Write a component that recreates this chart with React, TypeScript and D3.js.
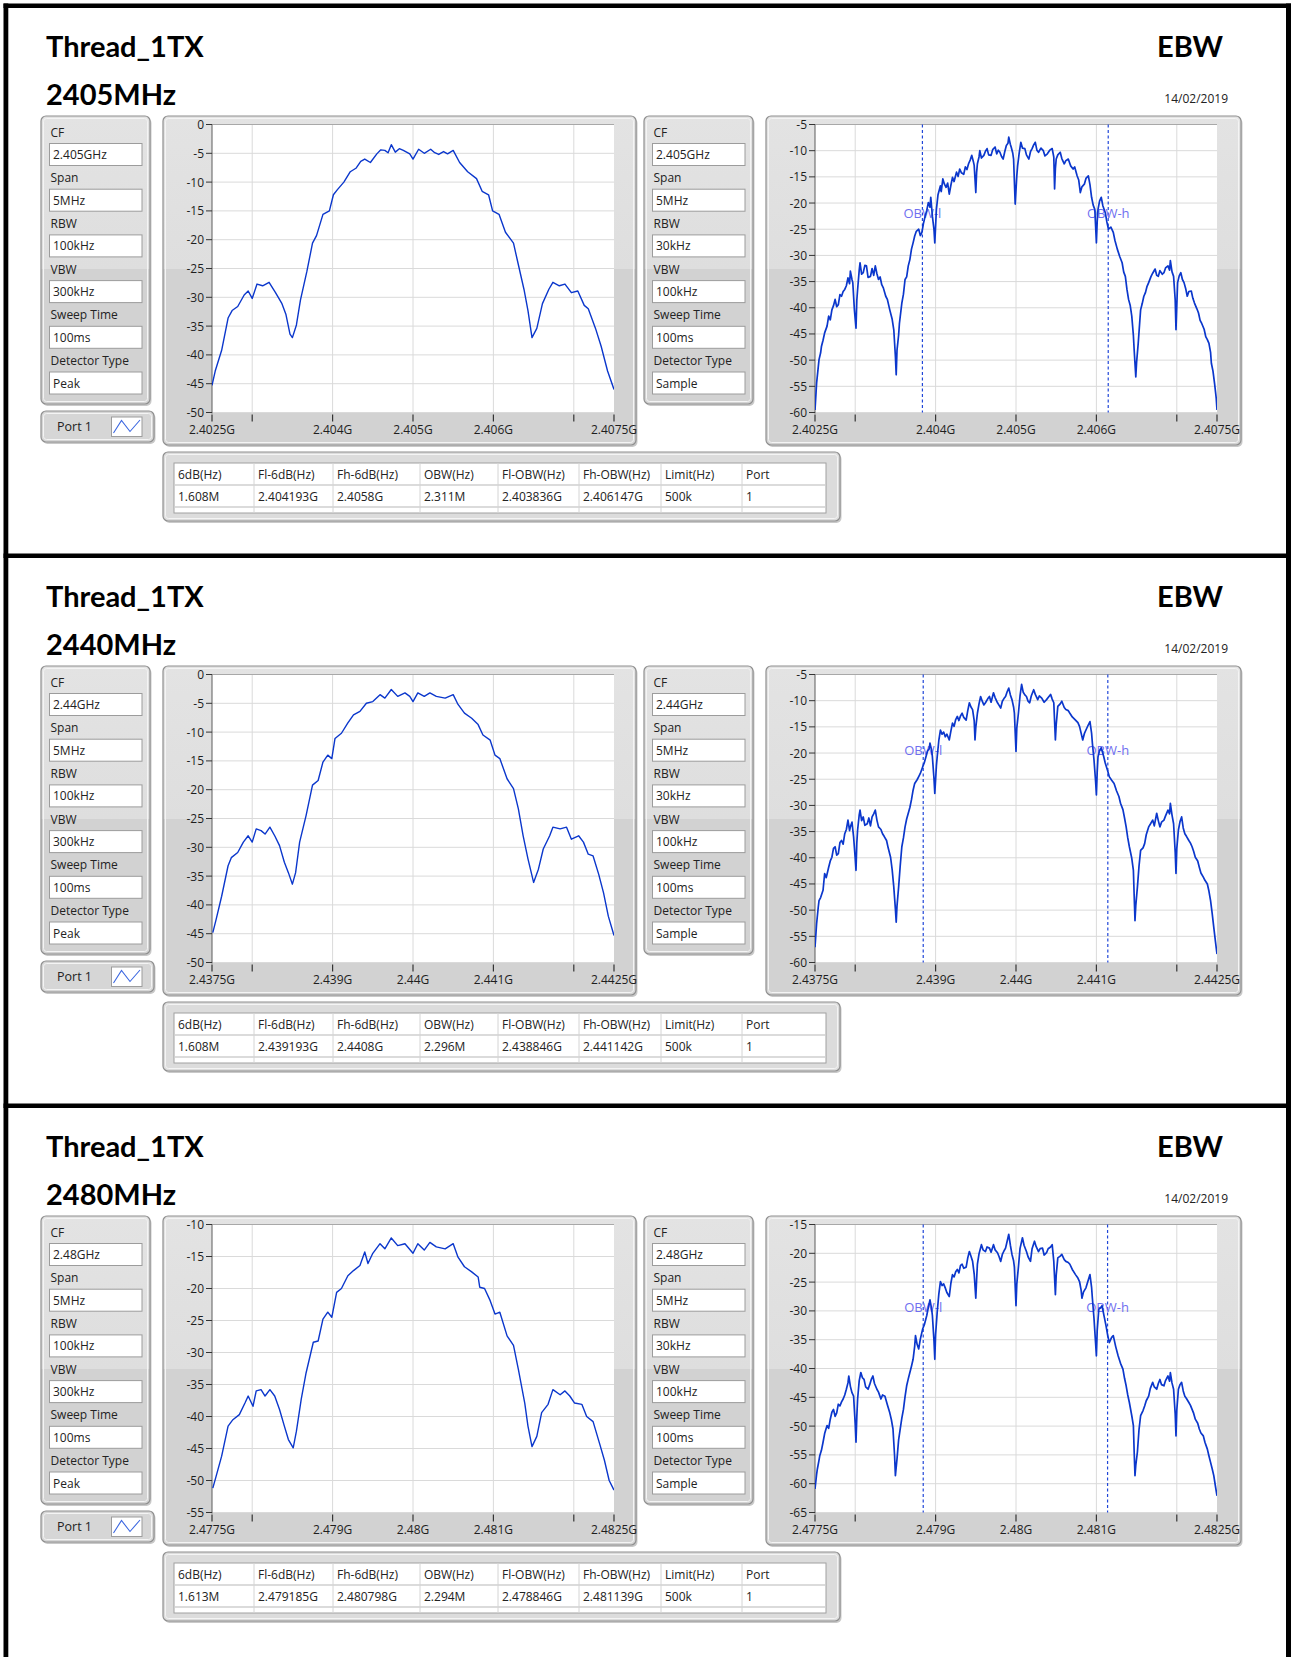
import React from 'react';
import * as d3 from 'd3';

// ---- data ----
const channelTitles = ['2405MHz', '2440MHz', '2480MHz'];
const cfLabels = ['2.405GHz', '2.44GHz', '2.48GHz'];
const spanStart = [2.4025, 2.4375, 2.4775]; // GHz, left edge of the 5 MHz span
const paramNames = ['CF', 'Span', 'RBW', 'VBW', 'Sweep Time', 'Detector Type'];
const peakSettings = ['5MHz', '100kHz', '300kHz', '100ms', 'Peak'];
const sampleSettings = ['5MHz', '30kHz', '100kHz', '100ms', 'Sample'];
const reportDate = '14/02/2019';

const xTickOffsets = [0, 0.5, 1.5, 2.5, 3.5, 4.5, 5]; // MHz from span start
const xTickLabels = [
  ['2.4025G', '', '2.404G', '2.405G', '2.406G', '', '2.4075G'],
  ['2.4375G', '', '2.439G', '2.44G', '2.441G', '', '2.4425G'],
  ['2.4775G', '', '2.479G', '2.48G', '2.481G', '', '2.4825G'],
];
const peakYDomains = [[-50, 0], [-50, 0], [-55, -10]];
const sampleYDomains = [[-60, -5], [-60, -5], [-65, -15]];
const obwLabelDb = [-22, -19.5, -29.4];

const tableHeaders = ['6dB(Hz)', 'Fl-6dB(Hz)', 'Fh-6dB(Hz)', 'OBW(Hz)', 'Fl-OBW(Hz)', 'Fh-OBW(Hz)', 'Limit(Hz)', 'Port'];
const tableRows = [
  ['1.608M', '2.404193G', '2.4058G', '2.311M', '2.403836G', '2.406147G', '500k', '1'],
  ['1.608M', '2.439193G', '2.4408G', '2.296M', '2.438846G', '2.441142G', '500k', '1'],
  ['1.613M', '2.479185G', '2.480798G', '2.294M', '2.478846G', '2.481139G', '500k', '1'],
];

// [MHz from span start, dBm]
const peak2405 = [[0,-45.3],[0.04,-42.8],[0.12,-39.2],[0.2,-33.6],[0.25,-32.3],[0.32,-31.6],[0.4,-29.6],[0.45,-28.9],[0.5,-30.2],[0.56,-27.7],[0.63,-28],[0.71,-27.4],[0.79,-29.2],[0.87,-31.1],[0.92,-33],[0.97,-36.4],[1.0,-37],[1.05,-34.8],[1.1,-30.5],[1.18,-25.5],[1.25,-20.6],[1.3,-19.3],[1.38,-15.6],[1.46,-15],[1.51,-12.2],[1.56,-11.3],[1.64,-10],[1.72,-8.2],[1.79,-7.6],[1.85,-6.4],[1.9,-6],[1.97,-6.6],[2.05,-5.1],[2.1,-4.4],[2.15,-4.5],[2.19,-4.9],[2.23,-3.5],[2.28,-4.8],[2.33,-4.2],[2.38,-4.5],[2.46,-5.1],[2.5,-6],[2.57,-4.3],[2.64,-5],[2.72,-4.3],[2.77,-4.9],[2.82,-5.2],[2.88,-4.7],[2.93,-5.1],[3.0,-4.5],[3.08,-6.6],[3.18,-8.2],[3.29,-9.4],[3.36,-11.6],[3.44,-12.2],[3.49,-15],[3.57,-15.6],[3.65,-18.7],[3.75,-20.6],[3.8,-23.7],[3.88,-28.6],[3.93,-32.3],[3.98,-37],[4.04,-35.4],[4.11,-31.1],[4.19,-28.6],[4.24,-27.4],[4.32,-28],[4.39,-27.7],[4.47,-29.2],[4.55,-28.9],[4.63,-31.4],[4.68,-32],[4.77,-35.4],[4.84,-38.5],[4.92,-42.8],[5,-46]];
const peak2440 = [[0.01,-44.8],[0.05,-42.6],[0.12,-38.5],[0.2,-33.2],[0.24,-31.8],[0.32,-30.9],[0.39,-29.1],[0.45,-28],[0.5,-29.1],[0.55,-26.8],[0.61,-27.1],[0.66,-27.7],[0.72,-26.5],[0.78,-28],[0.84,-29.7],[0.9,-32.6],[0.95,-34.4],[1.0,-36.4],[1.04,-34.4],[1.09,-29.1],[1.17,-24.5],[1.25,-19.2],[1.32,-18.4],[1.38,-15.2],[1.44,-14],[1.49,-14.6],[1.53,-11.1],[1.61,-10.2],[1.69,-8.4],[1.76,-7],[1.84,-6.4],[1.92,-5],[2.0,-4.7],[2.09,-3.5],[2.15,-4.1],[2.23,-2.6],[2.31,-3.8],[2.4,-3.2],[2.46,-3.8],[2.5,-4.7],[2.56,-3.2],[2.64,-3.8],[2.71,-3.2],[2.79,-3.8],[2.9,-4.1],[3.0,-3.5],[3.06,-5.2],[3.14,-6.7],[3.23,-7.6],[3.31,-8.7],[3.37,-10.5],[3.46,-11.4],[3.52,-14],[3.58,-14.6],[3.67,-18.1],[3.75,-19.8],[3.81,-23.3],[3.87,-28],[3.93,-32],[4.0,-36.1],[4.06,-33.8],[4.12,-30.3],[4.2,-28],[4.24,-26.5],[4.33,-26.8],[4.41,-26.5],[4.47,-28.6],[4.56,-28],[4.62,-29.1],[4.68,-31.2],[4.74,-31.5],[4.81,-34.7],[4.87,-37.9],[4.93,-42],[5.0,-45.3]];
const peak2480 = [[0.01,-51.2],[0.05,-49.4],[0.12,-46.2],[0.2,-41.5],[0.26,-40.5],[0.34,-39.7],[0.41,-37.9],[0.45,-36.8],[0.51,-38.4],[0.55,-36],[0.61,-35.8],[0.66,-36.8],[0.72,-35.8],[0.78,-36.8],[0.84,-38.9],[0.9,-41.5],[0.95,-43.6],[1.01,-44.9],[1.05,-42.3],[1.11,-37.3],[1.17,-33.2],[1.26,-28.4],[1.32,-28.2],[1.38,-24.8],[1.44,-23.7],[1.49,-24.5],[1.55,-20.6],[1.61,-20],[1.69,-18],[1.76,-17.2],[1.84,-16.4],[1.9,-14.3],[1.94,-16.1],[2.0,-14.5],[2.09,-13],[2.15,-13.8],[2.23,-12.1],[2.31,-13.3],[2.4,-13],[2.5,-14.5],[2.56,-13],[2.64,-14],[2.71,-12.8],[2.79,-13.5],[2.9,-13.8],[3.0,-13],[3.06,-15.1],[3.14,-16.6],[3.23,-17.4],[3.31,-18.2],[3.33,-19.8],[3.39,-20],[3.46,-21.9],[3.52,-24],[3.58,-23.7],[3.67,-27.4],[3.75,-28.9],[3.81,-32.6],[3.89,-37.9],[3.93,-41.5],[3.98,-44.7],[4.04,-43.1],[4.1,-39.4],[4.18,-38.1],[4.24,-35.8],[4.33,-36.6],[4.39,-36],[4.45,-36.8],[4.51,-37.9],[4.6,-38.1],[4.66,-40],[4.74,-40.8],[4.82,-44.2],[4.88,-46.8],[4.94,-50],[5.0,-51.5]];

const sample2405 = [[0,-59.5],[0.02,-54.4],[0.05,-49.9],[0.07,-48.6],[0.08,-47.4],[0.1,-46.2],[0.12,-44.8],[0.15,-43.5],[0.17,-41.6],[0.19,-42.3],[0.21,-40.4],[0.23,-39.6],[0.25,-38.4],[0.27,-39.8],[0.29,-39.4],[0.31,-37.5],[0.33,-37.8],[0.35,-36.9],[0.37,-36.5],[0.39,-35.8],[0.41,-34.3],[0.43,-35.4],[0.44,-33],[0.46,-34.6],[0.47,-35.2],[0.49,-40.4],[0.51,-43.9],[0.52,-38.6],[0.53,-36.5],[0.55,-32.8],[0.56,-31.4],[0.58,-33.6],[0.6,-33.3],[0.62,-31.9],[0.64,-32],[0.66,-34.2],[0.69,-34],[0.71,-32.5],[0.73,-33.8],[0.75,-32],[0.77,-33.5],[0.79,-34.6],[0.81,-34.1],[0.83,-35.6],[0.85,-36.2],[0.88,-37.8],[0.9,-38.4],[0.93,-40.4],[0.96,-42.2],[0.98,-44.2],[1.0,-49.3],[1.01,-52.8],[1.02,-48.1],[1.04,-45.2],[1.05,-43],[1.08,-39.1],[1.1,-37.4],[1.12,-34.6],[1.14,-34.1],[1.16,-32],[1.18,-30.8],[1.2,-28.8],[1.22,-27.6],[1.24,-26.3],[1.26,-25.4],[1.29,-25],[1.31,-26.2],[1.33,-25.6],[1.35,-23.8],[1.37,-22.5],[1.39,-21.4],[1.41,-19.9],[1.43,-20.8],[1.44,-18.9],[1.46,-22.5],[1.48,-25.1],[1.49,-27.6],[1.51,-21.2],[1.53,-18.4],[1.56,-16.7],[1.57,-17.8],[1.59,-15.4],[1.61,-16.4],[1.63,-17],[1.65,-16.2],[1.67,-18.3],[1.69,-16.6],[1.71,-15.1],[1.73,-15.9],[1.76,-14.1],[1.78,-14.9],[1.8,-13.5],[1.82,-14.2],[1.85,-14.5],[1.87,-13.1],[1.89,-13.6],[1.91,-12.5],[1.93,-11.8],[1.95,-10.9],[1.97,-12.1],[1.98,-12.8],[2.0,-18],[2.01,-14.2],[2.02,-12.5],[2.04,-11.2],[2.05,-10],[2.07,-11.4],[2.1,-10.9],[2.12,-10.1],[2.14,-9.6],[2.16,-10.8],[2.19,-10.9],[2.21,-9.8],[2.24,-9.3],[2.26,-10.6],[2.28,-9.9],[2.3,-10.3],[2.32,-11.1],[2.34,-11.6],[2.36,-10.2],[2.38,-9],[2.4,-8.6],[2.41,-7.4],[2.43,-8.8],[2.44,-9.3],[2.46,-10.5],[2.47,-11.6],[2.49,-20.2],[2.51,-14.8],[2.52,-12.9],[2.54,-10.4],[2.56,-8.4],[2.58,-9.5],[2.61,-9.6],[2.63,-10.8],[2.66,-11.6],[2.68,-10.2],[2.7,-9.6],[2.72,-8.9],[2.74,-8.4],[2.76,-9.9],[2.78,-10.3],[2.81,-9.5],[2.84,-10],[2.86,-11],[2.89,-10.6],[2.92,-9.9],[2.95,-9.6],[2.97,-11.2],[2.98,-17.3],[2.99,-13.4],[3.0,-11.6],[3.02,-10.8],[3.05,-10.3],[3.07,-11.5],[3.1,-12.5],[3.12,-11.9],[3.15,-11.6],[3.18,-12.9],[3.21,-13.5],[3.23,-13.1],[3.26,-14.8],[3.28,-15.6],[3.3,-18],[3.32,-16.9],[3.35,-16.4],[3.37,-15.3],[3.4,-14.8],[3.42,-16.5],[3.44,-18.9],[3.46,-20.4],[3.48,-21.2],[3.5,-27.6],[3.51,-23.5],[3.52,-21.2],[3.54,-19.6],[3.56,-18.9],[3.58,-20.5],[3.61,-21.8],[3.63,-23.6],[3.65,-25],[3.68,-24.6],[3.71,-25.6],[3.73,-27.1],[3.76,-28.8],[3.79,-30.2],[3.82,-31.4],[3.84,-33.2],[3.86,-34],[3.88,-36.5],[3.9,-38.4],[3.92,-39.5],[3.94,-41.6],[3.96,-45.3],[3.97,-48.1],[3.99,-53.2],[4.0,-50.4],[4.02,-46.8],[4.04,-42.5],[4.05,-40.4],[4.07,-39.2],[4.09,-37.8],[4.11,-37.1],[4.13,-35.9],[4.15,-35.2],[4.18,-34],[4.2,-33.4],[4.23,-32.6],[4.25,-33.8],[4.27,-34],[4.29,-32.9],[4.32,-33.6],[4.34,-33.3],[4.36,-32.4],[4.39,-32],[4.41,-32.8],[4.42,-31],[4.44,-33.1],[4.46,-34],[4.48,-38.5],[4.49,-44.2],[4.5,-39.6],[4.51,-35.2],[4.53,-33.9],[4.55,-33.3],[4.57,-34.6],[4.59,-35.2],[4.61,-36.3],[4.63,-37.8],[4.65,-36.9],[4.68,-36.8],[4.7,-38.2],[4.72,-39.1],[4.75,-40.2],[4.77,-41],[4.79,-42.4],[4.81,-43],[4.84,-44.1],[4.86,-45.5],[4.88,-46.1],[4.9,-46.8],[4.92,-48.5],[4.93,-50.6],[4.95,-52.1],[4.97,-54.5],[4.99,-57.2],[5.0,-59.5]];
const sample2440 = [[0,-57.1],[0.02,-52.6],[0.04,-49.5],[0.05,-48.2],[0.07,-47.6],[0.1,-46.2],[0.12,-43],[0.14,-43.8],[0.17,-41.8],[0.19,-40.6],[0.21,-39.9],[0.23,-38.2],[0.25,-37.9],[0.27,-39.5],[0.29,-39.2],[0.31,-37.1],[0.33,-36.7],[0.35,-37.4],[0.37,-35.4],[0.39,-34.6],[0.41,-32.8],[0.43,-34.8],[0.44,-34.1],[0.46,-33.2],[0.48,-36],[0.5,-40.1],[0.51,-42.4],[0.52,-37.2],[0.53,-34.7],[0.55,-31.8],[0.56,-30.9],[0.58,-32.9],[0.6,-32.2],[0.62,-33.8],[0.65,-33.5],[0.67,-32.4],[0.69,-33.9],[0.71,-32.2],[0.73,-31.6],[0.75,-30.9],[0.77,-32.8],[0.79,-34.1],[0.82,-34.6],[0.84,-35.4],[0.86,-35.9],[0.89,-36.7],[0.91,-38.1],[0.94,-39.9],[0.96,-42.3],[0.98,-45.6],[1.0,-49.8],[1.01,-52.3],[1.02,-49.2],[1.04,-45.6],[1.06,-41.5],[1.08,-37.9],[1.1,-36.2],[1.12,-34.1],[1.14,-32.6],[1.16,-31.5],[1.18,-30.4],[1.2,-28.9],[1.22,-27.1],[1.24,-25.8],[1.27,-25.1],[1.29,-24.5],[1.31,-23.9],[1.34,-22.6],[1.36,-21.8],[1.38,-20.7],[1.4,-19.6],[1.42,-19.2],[1.43,-18.1],[1.45,-19.4],[1.46,-20.7],[1.48,-24.9],[1.49,-27.7],[1.51,-22.4],[1.52,-20.7],[1.54,-17.6],[1.56,-15.6],[1.58,-16.4],[1.6,-16],[1.62,-16.9],[1.64,-16.4],[1.67,-17.5],[1.69,-15.8],[1.71,-14.3],[1.73,-14.9],[1.75,-13.6],[1.77,-13],[1.79,-13.8],[1.81,-12.9],[1.83,-12.4],[1.85,-13.2],[1.88,-13.7],[1.9,-11.9],[1.92,-10.4],[1.94,-11.2],[1.96,-11.7],[1.98,-13.8],[1.99,-17.5],[2.0,-15.1],[2.02,-12.4],[2.04,-10.6],[2.06,-9.2],[2.08,-10.1],[2.1,-10.8],[2.12,-10.4],[2.15,-9.6],[2.17,-9.2],[2.19,-10.3],[2.22,-8.5],[2.24,-9.4],[2.27,-10.4],[2.29,-10.9],[2.31,-11.4],[2.33,-10.1],[2.35,-9.6],[2.37,-9.2],[2.39,-8.3],[2.41,-7.6],[2.43,-8.9],[2.45,-9.8],[2.47,-11.2],[2.48,-12.4],[2.5,-19.7],[2.51,-15.2],[2.53,-12.4],[2.55,-9.1],[2.57,-6.9],[2.59,-8.4],[2.61,-8.9],[2.63,-9.2],[2.65,-10.1],[2.67,-10.4],[2.69,-9.1],[2.72,-7.9],[2.74,-8.8],[2.77,-9.8],[2.79,-9.1],[2.82,-9.5],[2.85,-10.3],[2.88,-9.8],[2.9,-9.4],[2.93,-8.8],[2.95,-9.7],[2.97,-10.4],[2.99,-17.5],[3.0,-14.6],[3.02,-11.1],[3.05,-10.6],[3.07,-10.1],[3.1,-11.3],[3.12,-11.7],[3.15,-11.9],[3.17,-12.4],[3.2,-13.1],[3.24,-13.7],[3.27,-14.2],[3.29,-14.9],[3.31,-16.2],[3.33,-17.5],[3.35,-16.3],[3.37,-15.6],[3.4,-14.6],[3.42,-14],[3.44,-16.2],[3.45,-18.1],[3.47,-21.3],[3.49,-25.4],[3.5,-28],[3.51,-23.6],[3.52,-20.7],[3.54,-19.5],[3.56,-19],[3.59,-20.6],[3.61,-21.9],[3.64,-23.4],[3.66,-24.5],[3.69,-25.2],[3.72,-25.8],[3.75,-27.2],[3.78,-28.3],[3.8,-29.6],[3.83,-30.8],[3.85,-32.4],[3.87,-34.1],[3.89,-36.2],[3.91,-37.9],[3.94,-40.1],[3.96,-42.4],[3.97,-47.3],[3.98,-52],[3.99,-49.1],[4.01,-45.6],[4.03,-41.6],[4.05,-38.6],[4.08,-38.1],[4.1,-37.3],[4.12,-35.6],[4.15,-34.1],[4.17,-33.6],[4.2,-32.8],[4.22,-33.9],[4.25,-31.5],[4.27,-32.9],[4.29,-34.1],[4.31,-33.2],[4.34,-32.8],[4.36,-32],[4.39,-30.9],[4.41,-31.6],[4.42,-29.6],[4.44,-31.8],[4.46,-33.5],[4.48,-38.9],[4.49,-43],[4.5,-38.2],[4.52,-34.7],[4.54,-33.1],[4.56,-32.2],[4.58,-34.3],[4.6,-35.4],[4.62,-35.9],[4.65,-36.7],[4.67,-37.2],[4.69,-37.9],[4.71,-38.8],[4.73,-39.9],[4.76,-40.6],[4.78,-41.8],[4.8,-42.9],[4.83,-43.7],[4.85,-44.3],[4.88,-45],[4.9,-46.4],[4.92,-48.2],[4.94,-50.6],[4.96,-53.3],[4.98,-55.9],[5.0,-58.4]];
const sample2480 = [[0,-60.9],[0.02,-58.4],[0.03,-57.4],[0.05,-55.9],[0.06,-55.1],[0.08,-54.2],[0.1,-52.8],[0.12,-51.3],[0.15,-49.9],[0.17,-50.4],[0.19,-48.8],[0.21,-47.6],[0.23,-47.1],[0.25,-48.3],[0.27,-47.7],[0.29,-46.2],[0.31,-46.5],[0.33,-45.8],[0.35,-45.3],[0.37,-44.6],[0.39,-43.6],[0.41,-42.5],[0.42,-41.3],[0.44,-43.1],[0.46,-44.2],[0.48,-44.8],[0.5,-49.6],[0.51,-52.8],[0.52,-48.4],[0.53,-45.3],[0.55,-42.1],[0.57,-40.7],[0.59,-41.6],[0.61,-41.9],[0.63,-43.2],[0.66,-43.6],[0.68,-42.8],[0.7,-41.9],[0.72,-41.3],[0.74,-42.6],[0.77,-43.6],[0.79,-44.1],[0.82,-45.3],[0.84,-44.6],[0.87,-44.8],[0.9,-46.3],[0.93,-47.7],[0.95,-48.9],[0.97,-50.5],[0.99,-55.2],[1.0,-58.6],[1.02,-55.7],[1.04,-52.4],[1.06,-50.5],[1.08,-48.6],[1.1,-47.1],[1.12,-44.9],[1.14,-43],[1.16,-41.8],[1.18,-40.7],[1.2,-39.6],[1.22,-38.4],[1.24,-36.1],[1.25,-34.3],[1.27,-35.8],[1.29,-36.6],[1.31,-34.9],[1.34,-33.1],[1.36,-32.4],[1.39,-30.8],[1.41,-29.4],[1.43,-28.1],[1.45,-29.6],[1.46,-30.8],[1.48,-35.2],[1.49,-38.4],[1.5,-34.1],[1.52,-30.2],[1.54,-27.1],[1.56,-24.9],[1.58,-25.6],[1.6,-25.3],[1.62,-26],[1.64,-26.8],[1.67,-27.5],[1.69,-25.2],[1.71,-23.7],[1.73,-24.1],[1.75,-23.2],[1.77,-22.8],[1.79,-23.4],[1.81,-22.1],[1.83,-21.9],[1.85,-22.6],[1.88,-22.4],[1.9,-20.8],[1.92,-19.7],[1.94,-20.5],[1.96,-21.4],[1.98,-23.6],[2.0,-27.8],[2.01,-24.6],[2.02,-21.9],[2.04,-20.1],[2.07,-18.5],[2.09,-19.4],[2.12,-19.7],[2.14,-18.9],[2.17,-19.1],[2.19,-19.8],[2.22,-18.5],[2.24,-19.4],[2.27,-19.9],[2.29,-20.6],[2.31,-21.4],[2.33,-20.2],[2.35,-19.6],[2.37,-19.1],[2.39,-17.9],[2.41,-16.7],[2.43,-18.6],[2.45,-20.2],[2.47,-21.3],[2.48,-22.4],[2.5,-29.1],[2.51,-25.3],[2.53,-22.4],[2.55,-19.2],[2.58,-17.3],[2.6,-18.6],[2.63,-19.7],[2.65,-20.6],[2.68,-21.4],[2.7,-19.2],[2.73,-17.9],[2.75,-18.8],[2.78,-19.7],[2.8,-19.2],[2.83,-19.1],[2.85,-20.3],[2.88,-19.9],[2.9,-19.2],[2.93,-18.9],[2.95,-18.5],[2.97,-21.4],[2.99,-27.2],[3.0,-23.8],[3.02,-20.8],[3.05,-20.5],[3.07,-20.2],[3.1,-21.1],[3.12,-21.4],[3.15,-21.6],[3.17,-21.9],[3.2,-22.8],[3.24,-23.7],[3.27,-24.3],[3.29,-24.9],[3.31,-26.4],[3.32,-27.8],[3.34,-26.7],[3.37,-26],[3.4,-24.6],[3.42,-23.7],[3.44,-25.9],[3.45,-27.8],[3.47,-31.3],[3.49,-35.6],[3.5,-37.8],[3.51,-33.4],[3.53,-29.7],[3.55,-29.5],[3.57,-29.1],[3.6,-31.2],[3.62,-32.6],[3.64,-34.2],[3.66,-35.5],[3.69,-34.6],[3.71,-34.3],[3.74,-36.2],[3.77,-37.8],[3.8,-39.1],[3.83,-40.1],[3.85,-41.7],[3.87,-43],[3.89,-44.6],[3.91,-45.9],[3.94,-48.2],[3.96,-49.9],[3.97,-54.6],[3.98,-58.6],[3.99,-56.8],[4.01,-54.5],[4.03,-50.6],[4.05,-48.2],[4.08,-47.3],[4.1,-46.5],[4.12,-45.6],[4.15,-44.8],[4.17,-43.5],[4.2,-42.4],[4.22,-43.2],[4.25,-43.6],[4.27,-42.6],[4.29,-41.9],[4.31,-42.8],[4.34,-43],[4.36,-42.1],[4.39,-41.3],[4.41,-42.2],[4.42,-40.7],[4.44,-42.5],[4.46,-43.6],[4.48,-47.9],[4.49,-51.7],[4.5,-47.2],[4.52,-43.6],[4.54,-42.8],[4.56,-42.4],[4.58,-43.9],[4.6,-44.8],[4.62,-45.2],[4.65,-45.9],[4.67,-46.4],[4.69,-47.1],[4.71,-47.8],[4.73,-48.8],[4.76,-49.5],[4.78,-50.5],[4.8,-51.2],[4.83,-51.7],[4.85,-52.8],[4.88,-54],[4.9,-55.2],[4.92,-56.3],[4.94,-57.4],[4.96,-58.6],[4.98,-60.4],[5.0,-62.1]];

const peakTraces = [peak2405, peak2440, peak2480];
const sampleTraces = [sample2405, sample2440, sample2480];

// ---- look ----
const W = 1292;
const H = 1657;
const SECTION_H = 550;
const UI_FONT = '"Open Sans", "DejaVu Sans", sans-serif';
const TITLE_FONT = 'Lato, "Open Sans", sans-serif';
const TRACE = '#0b37cc';
const TOP_GRAY = '#e3e3e3';
const LOW_GRAY = '#d2d2d2';
const SPLIT_Y = 269;
const colX = [174, 254, 333, 420, 498, 579, 661, 742, 826];

const Panel = ({ x, y, w, h, fill }) => (
  <g>
    <rect x={x + 1.5} y={y + 2} width={w} height={h} rx={5} fill="#c9c9c9" />
    <rect x={x} y={y} width={w} height={h} rx={5} fill={fill} stroke="#8f8f8f" strokeWidth={1.2} />
    <rect x={x + 2.5} y={y + 2.5} width={w - 5} height={h - 5} rx={3} fill="none" stroke="#f4f4f4" strokeWidth={1} />
  </g>
);

const ParamPanel = ({ x, values, fill }) => (
  <g fontFamily={UI_FONT} fontSize={12} fill="#222">
    <Panel x={x} y={116} w={109} h={288} fill={fill} />
    {paramNames.map((name, i) => {
      const top = 143.5 + i * 45.7;
      return (
        <g key={name}>
          <text x={x + 9.5} y={136.5 + i * 45.7}>{name}</text>
          <rect x={x + 8.5} y={top} width={92.5} height={22} fill="#fff" stroke="#9c9c9c" strokeWidth={1} />
          <text x={x + 12} y={top + 15.5}>{values[i]}</text>
        </g>
      );
    })}
  </g>
);

const Spectrum = ({ idx, kind, panelX, panelW, plotL, plotR, yDomain, trace, obw, fill }) => {
  const plotT = 124.5;
  const plotB = 412.5;
  const f0 = spanStart[idx];
  const x = d3.scaleLinear().domain([f0, f0 + 0.005]).range([plotL, plotR]);
  const y = d3.scaleLinear().domain(yDomain).range([plotB, plotT]);
  const yTicks = d3.range(yDomain[0], yDomain[1] + 0.01, 5);
  const line = d3.line()
    .x(d => x(f0 + d[0] / 1000))
    .y(d => y(d[1]));
  const clipId = `clip-${kind}-${idx}`;
  return (
    <g fontFamily={UI_FONT} fontSize={12} fill="#1e1e1e">
      <Panel x={panelX} y={116} w={panelW} h={329} fill={fill} />
      <defs>
        <clipPath id={clipId}>
          <rect x={plotL} y={plotT} width={plotR - plotL} height={plotB - plotT} />
        </clipPath>
      </defs>
      <rect x={plotL} y={plotT} width={plotR - plotL} height={plotB - plotT} fill="#fff" />
      {yTicks.map(v => (
        <line key={`gy${v}`} x1={plotL} x2={plotR} y1={y(v)} y2={y(v)} stroke="#dadada" strokeWidth={1} />
      ))}
      {xTickOffsets.slice(1, -1).map(o => (
        <line key={`gx${o}`} x1={x(f0 + o / 1000)} x2={x(f0 + o / 1000)} y1={plotT} y2={plotB} stroke="#dadada" strokeWidth={1} />
      ))}
      <line x1={plotL} x2={plotR} y1={plotT} y2={plotT} stroke="#a8a8a8" strokeWidth={1.2} />
      <line x1={plotL} x2={plotL} y1={plotT} y2={plotB + 1} stroke="#5c5c5c" strokeWidth={1} />
      {yTicks.map(v => (
        <g key={`ty${v}`}>
          <line x1={plotL - 6} x2={plotL} y1={y(v)} y2={y(v)} stroke="#333" strokeWidth={1} />
          <text x={plotL - 8} y={y(v) + 4.5} textAnchor="end">{String(v)}</text>
        </g>
      ))}
      {xTickOffsets.map((o, i) => (
        <g key={`tx${o}`}>
          <line x1={x(f0 + o / 1000)} x2={x(f0 + o / 1000)} y1={plotB + 2} y2={plotB + 9} stroke="#333" strokeWidth={1.2} />
          {xTickLabels[idx][i] && (
            <text x={x(f0 + o / 1000)} y={plotB + 21} textAnchor="middle">{xTickLabels[idx][i]}</text>
          )}
        </g>
      ))}
      {obw && obw.map((f, i) => (
        <g key={`obw${i}`}>
          <line x1={x(f)} x2={x(f)} y1={plotT} y2={plotB} stroke="#2046d8" strokeWidth={1.2} strokeDasharray="3,2.5" />
          <text x={x(f)} y={y(obwLabelDb[idx]) + 4.5} textAnchor="middle" fontSize={13} fill="#6f6ff0">
            {i === 0 ? 'OBW-l' : 'OBW-h'}
          </text>
        </g>
      ))}
      <path d={line(trace)} fill="none" stroke={TRACE} strokeWidth={kind === 'peak' ? 1.4 : 1.7}
        strokeLinejoin="round" clipPath={`url(#${clipId})`} />
    </g>
  );
};

const ResultTable = ({ row }) => (
  <g fontFamily={UI_FONT} fontSize={12} fill="#222">
    <Panel x={163} y={452} w={677} h={69} fill="#dcdcdc" />
    <rect x={colX[0]} y={463} width={colX[8] - colX[0]} height={50} fill="#fff" stroke="#a0a0a0" strokeWidth={1} />
    {[485, 507].map(yy => (
      <line key={yy} x1={colX[0]} x2={colX[8]} y1={yy} y2={yy} stroke="#cfcfcf" strokeWidth={1.5} />
    ))}
    {colX.slice(1, -1).map(cx => (
      <line key={cx} x1={cx} x2={cx} y1={463} y2={513} stroke="#d4d4d4" strokeWidth={1} />
    ))}
    {tableHeaders.map((t, i) => (
      <text key={t} x={colX[i] + 4} y={479}>{t}</text>
    ))}
    {row.map((t, i) => (
      <text key={i} x={colX[i] + 4} y={501}>{t}</text>
    ))}
  </g>
);

const Section = ({ idx }) => {
  const dy = idx * SECTION_H;
  const gradId = `panelFill${idx}`;
  const fill = `url(#${gradId})`;
  const row = tableRows[idx];
  const obw = [parseFloat(row[4]), parseFloat(row[5])];
  return (
    <g transform={`translate(0,${dy})`}>
      <defs>
        <linearGradient id={gradId} gradientUnits="userSpaceOnUse" x1={0} y1={116} x2={0} y2={445}>
          <stop offset={0} stopColor={TOP_GRAY} />
          <stop offset={(SPLIT_Y - 116) / 329} stopColor="#dedede" />
          <stop offset={(SPLIT_Y - 116) / 329} stopColor={LOW_GRAY} />
          <stop offset={1} stopColor={LOW_GRAY} />
        </linearGradient>
      </defs>
      <text x={46} y={56.5} fontFamily={TITLE_FONT} fontWeight={700} fontSize={29} fill="#000">Thread_1TX</text>
      <text x={46} y={104.5} fontFamily={TITLE_FONT} fontWeight={700} fontSize={29} fill="#000">{channelTitles[idx]}</text>
      <text x={1223} y={56.5} textAnchor="end" fontFamily={TITLE_FONT} fontWeight={700} fontSize={29} fill="#000">EBW</text>
      <text x={1228} y={103} textAnchor="end" fontFamily={UI_FONT} fontSize={12} fill="#222">{reportDate}</text>

      <ParamPanel x={41} values={[cfLabels[idx], ...peakSettings]} fill={fill} />
      <g fontFamily={UI_FONT} fontSize={12.5} fill="#222">
        <Panel x={41} y={411} w={113} h={31} fill="#d6d6d6" />
        <text x={57} y={431}>Port 1</text>
        <rect x={111.5} y={417} width={30.5} height={19.5} fill="#fff" stroke="#9c9c9c" strokeWidth={1} />
        <polyline points="113.5,433 121.5,420.5 130,431.5 140,420" fill="none" stroke="#3a66e0" strokeWidth={1.1} />
      </g>

      <Spectrum idx={idx} kind="peak" panelX={163} panelW={473} plotL={212} plotR={614}
        yDomain={peakYDomains[idx]} trace={peakTraces[idx]} fill={fill} />
      <ParamPanel x={644} values={[cfLabels[idx], ...sampleSettings]} fill={fill} />
      <Spectrum idx={idx} kind="sample" panelX={766} panelW={475} plotL={815} plotR={1217}
        yDomain={sampleYDomains[idx]} trace={sampleTraces[idx]} obw={obw} fill={fill} />

      <ResultTable row={row} />
    </g>
  );
};

export default function App() {
  return (
    <div style={{ position: 'absolute', left: 0, top: 0, background: '#fff' }}>
      <svg width={W} height={H} viewBox={`0 0 ${W} ${H}`} style={{ display: 'block' }}>
        <rect width={W} height={H} fill="#fff" />
        {[0, 1, 2].map(i => <Section key={i} idx={i} />)}
        {/* outer frame and separators */}
        <rect x={3.5} y={3.5} width={4.8} height={H - 3.5} fill="#000" />
        <rect x={1286} y={3.5} width={5} height={H - 3.5} fill="#000" />
        <rect x={3.5} y={3.5} width={1287.5} height={4.5} fill="#000" />
        <rect x={3.5} y={553.5} width={1287.5} height={4.5} fill="#000" />
        <rect x={3.5} y={1103.5} width={1287.5} height={4.5} fill="#000" />
      </svg>
    </div>
  );
}
